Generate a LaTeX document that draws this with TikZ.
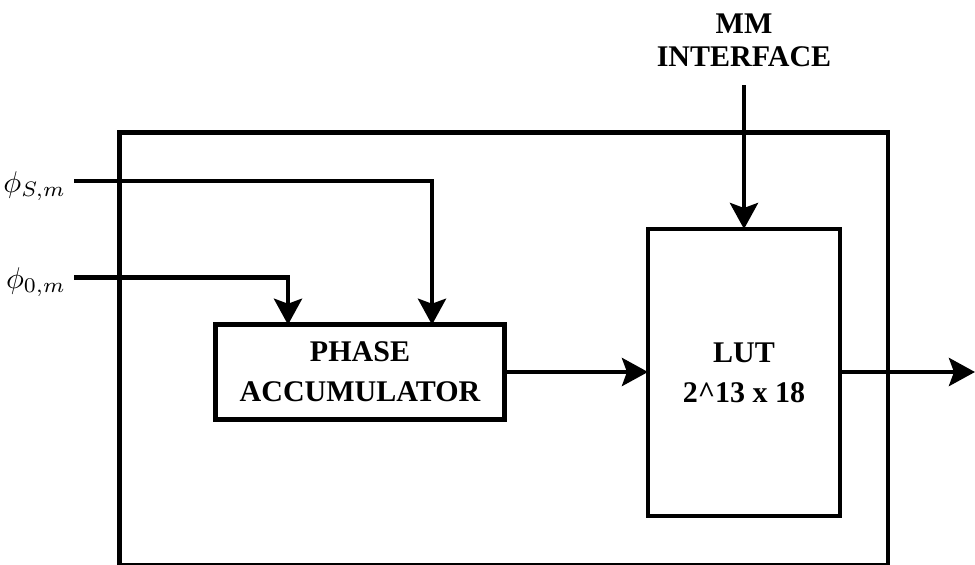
\documentclass[tikz,border=0pt]{standalone}
\usepackage{fontspec}
\setmainfont{Liberation Serif}
\usetikzlibrary{arrows.meta}

\newcommand{\biglabel}[1]{\scalebox{3}{$#1$}}

\begin{document}
\begin{tikzpicture}[x=1pt,y=-1pt,
  wire/.style={line width=4.6pt},
  arr/.style={wire,-{Stealth[length=26pt,width=28pt,inset=5pt]}},
  block/.style={draw,line width=4.6pt,rectangle,inner sep=0pt,outer sep=0pt,
    align=center,font=\fontsize{30}{40}\selectfont\bfseries},
  lbl/.style={inner sep=0pt},
  head/.style={inner sep=0pt,align=center,font=\fontsize{30}{33}\selectfont\bfseries}]
  \useasboundingbox (0,0) rectangle (975,565);

  % enclosing block
  \node[block,minimum width=768.5pt,minimum height=432.5pt] (outer) at (503.75,348.75) {};

  % inner blocks
  \node[block,minimum width=289pt,minimum height=94.5pt] (acc) at (360,372) {PHASE\\ACCUMULATOR};
  \node[block,minimum width=192pt,minimum height=287pt] (lut) at (744,372.5) {LUT\\2\^{}13 x 18};

  % input labels
  \node[lbl,anchor=east] (phiS) at (66,186) {\biglabel{\phi_{S,m}}};
  \node[lbl,anchor=east] (phiZ) at (66,282) {\biglabel{\phi_{0,m}}};
  \node[head] (mm) at (744,40) {MM\\INTERFACE};

  % helper points
  \coordinate (sIn) at (74,181);
  \coordinate (zIn) at (74,277.5);
  \coordinate (sx) at (432,0);
  \coordinate (zx) at (288,0);
  \coordinate (mmTop) at (744,85);
  \coordinate (out) at (975,372);

  % connectors
  \draw[arr] (sIn) -| (sx |- acc.north);
  \draw[arr] (zIn) -| (zx |- acc.north);
  \draw[arr] (acc.east) -- (acc.east -| lut.west);
  \draw[arr] (mmTop) -- (lut.north);
  \draw[arr] (lut.east |- out) -- (out);
\end{tikzpicture}
\end{document}
